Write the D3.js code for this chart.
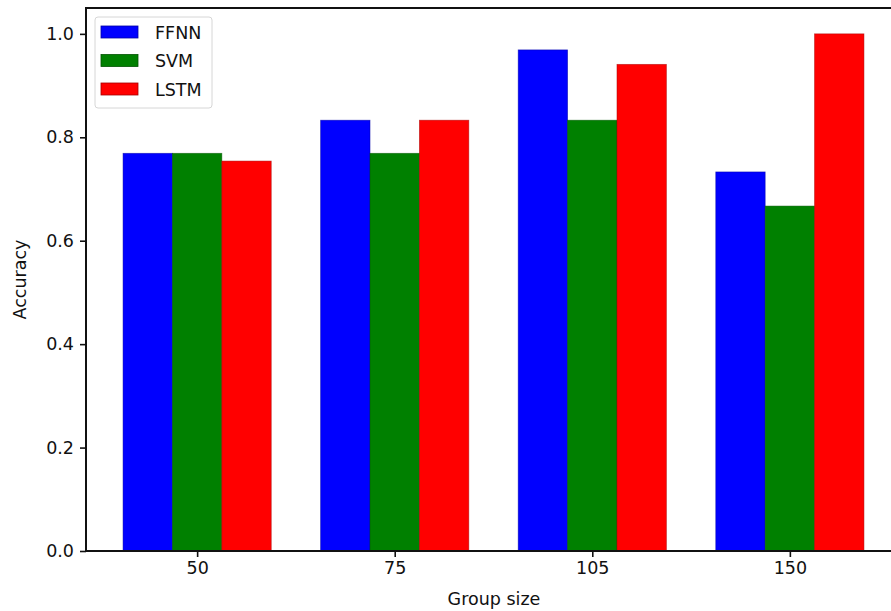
<!DOCTYPE html>
<html><head><meta charset="utf-8">
<script src="https://cdn.jsdelivr.net/npm/d3@7"></script>
<style>body{margin:0;background:#fff}svg{display:block}text{font-family:"DejaVu Sans",sans-serif;fill:#111}</style>
</head><body>
<script>
const categories = ["50","75","105","150"];
const seriesNames = ["FFNN","SVM","LSTM"];
const seriesColors = ["#0000ff","#008000","#ff0000"];
const ffnn = [0.769, 0.833, 0.969, 0.733];
const svm  = [0.769, 0.769, 0.833, 0.667];
const lstm = [0.754, 0.833, 0.941, 1.0];
const yTicks = [0.0, 0.2, 0.4, 0.6, 0.8, 1.0];
const series = [ffnn, svm, lstm];

const W = 891, H = 611;
const FS = 17.5;
const svg = d3.select("body").append("svg").attr("width", W).attr("height", H);
const x = d3.scaleLinear().domain([-0.5625, 3.5625]).range([86, 901]);
const y = d3.scaleLinear().domain([0, 1.05]).range([551, 8]);
const bw = x(0.25) - x(0);

const g = svg.append("g");
series.forEach((vals, si) => {
  g.selectAll(null).data(vals).enter().append("rect")
    .attr("x", (d, i) => x(i + (si - 1) * 0.25) - bw / 2)
    .attr("width", bw)
    .attr("y", d => y(d))
    .attr("height", d => y(0) - y(d))
    .attr("fill", seriesColors[si])
    .attr("stroke", d3.color(seriesColors[si]).darker(1.2))
    .attr("stroke-width", 0.8)
    .attr("stroke-opacity", 0.6);
});

const xAxis = d3.axisBottom(x).tickValues(d3.range(categories.length)).tickFormat(i => categories[i]).tickSize(6).tickPadding(5);
const yAxis = d3.axisLeft(y).tickValues(yTicks).tickFormat(d3.format(".1f")).tickSize(6).tickPadding(6);
const gx = svg.append("g").attr("transform", `translate(0,${y(0)})`).call(xAxis);
const gy = svg.append("g").attr("transform", `translate(${x.range()[0]},0)`).call(yAxis);
[gx, gy].forEach(a => {
  a.select(".domain").remove();
  a.selectAll("line").attr("stroke", "#111").attr("stroke-width", 1.6);
  a.selectAll("text").attr("font-size", FS).attr("fill", "#111").style("font-family", "DejaVu Sans, sans-serif");
});
svg.append("rect").attr("x", x.range()[0]).attr("y", y(1.05))
  .attr("width", x.range()[1] - x.range()[0]).attr("height", y(0) - y(1.05))
  .attr("fill", "none").attr("stroke", "#111").attr("stroke-width", 2);

svg.append("text").attr("x", 494).attr("y", 605)
  .attr("text-anchor", "middle").attr("font-size", FS).text("Group size");
svg.append("text").attr("transform", `translate(26,${(y(0) + y(1.05)) / 2}) rotate(-90)`)
  .attr("text-anchor", "middle").attr("font-size", FS).text("Accuracy");

const lg = svg.append("g").attr("transform", "translate(95,17)");
lg.append("rect").attr("width", 117).attr("height", 91).attr("rx", 3)
  .attr("fill", "#fff").attr("fill-opacity", 0.8).attr("stroke", "#d6d6d6").attr("stroke-width", 1);
seriesNames.forEach((n, i) => {
  const yy = 15 + i * 28.5;
  lg.append("rect").attr("x", 6).attr("y", yy - 6).attr("width", 37).attr("height", 12)
    .attr("fill", seriesColors[i]).attr("stroke", d3.color(seriesColors[i]).darker(1.2)).attr("stroke-width", 0.8);
  lg.append("text").attr("x", 60).attr("y", yy + 6.5).attr("font-size", FS).text(n);
});
</script>
</body></html>
